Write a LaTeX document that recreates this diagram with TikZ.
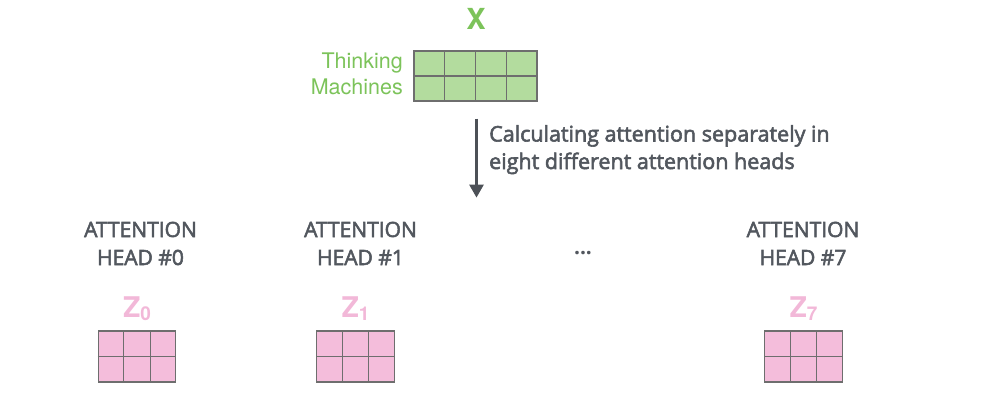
\documentclass[tikz,border=0pt]{standalone}
\usepackage{fontspec}
\setmainfont{Open Sans}
\newfontfamily\osemi[FakeBold=2.6]{Open Sans}
\newfontfamily\helv{TeX Gyre Heros}
\usetikzlibrary{arrows.meta,calc}
\definecolor{txtgray}{HTML}{52575E}
\definecolor{arrgray}{HTML}{4D5157}
\definecolor{xgreen}{HTML}{7CC35A}
\definecolor{gfill}{HTML}{B3DC9E}
\definecolor{zpink}{HTML}{F2B8D8}
\definecolor{pfill}{HTML}{F4BDDB}
\definecolor{gridc}{HTML}{6E6E6E}
\begin{document}
\begin{tikzpicture}[x=1pt,y=-1pt,
  headtxt/.style={anchor=base,inner sep=0,text=txtgray,font=\osemi\fontsize{21}{25}\selectfont},
  desctxt/.style={anchor=base west,inner sep=0,text=txtgray,font=\osemi\fontsize{21.5}{26}\selectfont},
  wordtxt/.style={anchor=base east,inner sep=0,text=xgreen,font=\helv\fontsize{21.5}{25}\selectfont},
  zlabel/.style={anchor=base,inner sep=0,text=zpink,font=\helv\bfseries\fontsize{28.5}{30}\selectfont},
  xlabel/.style={anchor=base,inner sep=0,text=xgreen,font=\helv\bfseries\fontsize{29}{30}\selectfont},
  gmat/.style={draw=gridc,line width=1.2pt,fill=gfill,minimum width=123pt,minimum height=50pt,inner sep=0},
  pmat/.style={draw=gridc,line width=1.2pt,fill=pfill,minimum width=77.5pt,minimum height=51pt,inner sep=0},
  gline/.style={draw=gridc,line width=1.2pt},
  bigarrow/.style={draw=arrgray,line width=2.7pt,-{Triangle[length=13pt,width=14pt]}}
]
\useasboundingbox (0,0) rectangle (984,408);

% X matrix
\node[xlabel] (xl) at (476,29) {X};
\node[gmat] (xm) at (475.5,76) {};
\foreach \i in {1,2,3}
  \draw[gline] ($(xm.north west)!\i/4!(xm.north east)$) -- ($(xm.south west)!\i/4!(xm.south east)$);
\draw[gline] (xm.west) -- (xm.east);
\node[wordtxt] (w1) at (403,68.5) {Thinking};
\node[wordtxt] (w2) at (403,94) {Machines};

% arrow
\coordinate (as) at ($(xm.south)+(1,17)$);
\coordinate (ae) at ($(xm.south)+(1,96)$);
\draw[bigarrow] (as) -- (ae);
\node[desctxt] (d1) at (489,141.5) {Calculating attention separately in};
\node[desctxt] (d2) at (489,169) {eight different attention heads};

% heads
\foreach \n/\tx/\gx/\k in {h0/140.5/137/0, h1/360.5/355.5/1, h7/803/803.5/7}{
  \node[headtxt] (\n a) at (\tx,237) {ATTENTION};
  \node[headtxt] (\n b) at (\tx,265) {HEAD \#\k};
  \node[zlabel] (\n z) at (\gx,317) {Z\raisebox{-3pt}{\fontsize{19}{19}\selectfont\k}};
  \node[pmat] (\n m) at (\gx,356.5) {};
  \foreach \i in {1,2}
    \draw[gline] ($(\n m.north west)!\i/3!(\n m.north east)$) -- ($(\n m.south west)!\i/3!(\n m.south east)$);
  \draw[gline] (\n m.west) -- (\n m.east);
}
\node[headtxt,font=\fontsize{21}{25}\selectfont\bfseries] (dots) at (583,254) {...};
\end{tikzpicture}
\end{document}
